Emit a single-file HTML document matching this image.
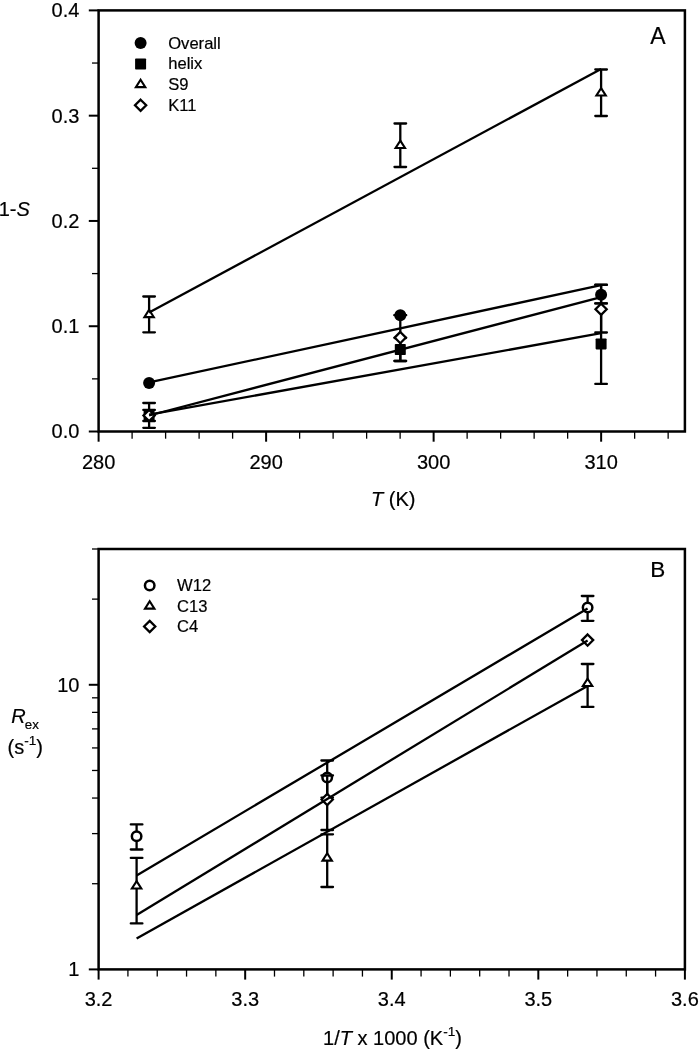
<!DOCTYPE html>
<html lang="en">
<head>
<meta charset="utf-8">
<title>Figure</title>
<style>
html,body{margin:0;padding:0;background:#fff;}
body{width:699px;height:1050px;overflow:hidden;}
svg{display:block;}
svg text{font-family:"Liberation Sans", Arial, Helvetica, sans-serif;fill:#000;stroke:#000;stroke-width:0.2px;}
</style>
</head>
<body>
<svg width="699" height="1050" viewBox="0 0 699 1050">
<rect x="0" y="0" width="699" height="1050" fill="#fff"/>
<rect x="98.6" y="10.4" width="586.30" height="421.10" fill="none" stroke="#000" stroke-width="2.5"/>
<line x1="88.80" y1="431.50" x2="98.60" y2="431.50" stroke="#000" stroke-width="2.0" stroke-linecap="butt"/>
<text x="79.40" y="438.40" font-size="20.0" text-anchor="end" >0.0</text>
<line x1="92.00" y1="378.86" x2="98.60" y2="378.86" stroke="#000" stroke-width="1.3" stroke-linecap="butt"/>
<line x1="88.80" y1="326.23" x2="98.60" y2="326.23" stroke="#000" stroke-width="2.0" stroke-linecap="butt"/>
<text x="79.40" y="333.12" font-size="20.0" text-anchor="end" >0.1</text>
<line x1="92.00" y1="273.59" x2="98.60" y2="273.59" stroke="#000" stroke-width="1.3" stroke-linecap="butt"/>
<line x1="88.80" y1="220.95" x2="98.60" y2="220.95" stroke="#000" stroke-width="2.0" stroke-linecap="butt"/>
<text x="79.40" y="227.85" font-size="20.0" text-anchor="end" >0.2</text>
<line x1="92.00" y1="168.31" x2="98.60" y2="168.31" stroke="#000" stroke-width="1.3" stroke-linecap="butt"/>
<line x1="88.80" y1="115.67" x2="98.60" y2="115.67" stroke="#000" stroke-width="2.0" stroke-linecap="butt"/>
<text x="79.40" y="122.57" font-size="20.0" text-anchor="end" >0.3</text>
<line x1="92.00" y1="63.04" x2="98.60" y2="63.04" stroke="#000" stroke-width="1.3" stroke-linecap="butt"/>
<line x1="88.80" y1="10.40" x2="98.60" y2="10.40" stroke="#000" stroke-width="2.0" stroke-linecap="butt"/>
<text x="79.40" y="17.30" font-size="20.0" text-anchor="end" >0.4</text>
<line x1="98.60" y1="431.50" x2="98.60" y2="441.70" stroke="#000" stroke-width="2.0" stroke-linecap="butt"/>
<text x="98.60" y="468.50" font-size="20.0" text-anchor="middle" >280</text>
<line x1="132.10" y1="431.50" x2="132.10" y2="438.70" stroke="#000" stroke-width="1.3" stroke-linecap="butt"/>
<line x1="165.61" y1="431.50" x2="165.61" y2="438.70" stroke="#000" stroke-width="1.3" stroke-linecap="butt"/>
<line x1="199.11" y1="431.50" x2="199.11" y2="438.70" stroke="#000" stroke-width="1.3" stroke-linecap="butt"/>
<line x1="232.61" y1="431.50" x2="232.61" y2="438.70" stroke="#000" stroke-width="1.3" stroke-linecap="butt"/>
<line x1="266.11" y1="431.50" x2="266.11" y2="441.70" stroke="#000" stroke-width="2.0" stroke-linecap="butt"/>
<text x="266.11" y="468.50" font-size="20.0" text-anchor="middle" >290</text>
<line x1="299.62" y1="431.50" x2="299.62" y2="438.70" stroke="#000" stroke-width="1.3" stroke-linecap="butt"/>
<line x1="333.12" y1="431.50" x2="333.12" y2="438.70" stroke="#000" stroke-width="1.3" stroke-linecap="butt"/>
<line x1="366.62" y1="431.50" x2="366.62" y2="438.70" stroke="#000" stroke-width="1.3" stroke-linecap="butt"/>
<line x1="400.13" y1="431.50" x2="400.13" y2="438.70" stroke="#000" stroke-width="1.3" stroke-linecap="butt"/>
<line x1="433.63" y1="431.50" x2="433.63" y2="441.70" stroke="#000" stroke-width="2.0" stroke-linecap="butt"/>
<text x="433.63" y="468.50" font-size="20.0" text-anchor="middle" >300</text>
<line x1="467.13" y1="431.50" x2="467.13" y2="438.70" stroke="#000" stroke-width="1.3" stroke-linecap="butt"/>
<line x1="500.63" y1="431.50" x2="500.63" y2="438.70" stroke="#000" stroke-width="1.3" stroke-linecap="butt"/>
<line x1="534.14" y1="431.50" x2="534.14" y2="438.70" stroke="#000" stroke-width="1.3" stroke-linecap="butt"/>
<line x1="567.64" y1="431.50" x2="567.64" y2="438.70" stroke="#000" stroke-width="1.3" stroke-linecap="butt"/>
<line x1="601.14" y1="431.50" x2="601.14" y2="441.70" stroke="#000" stroke-width="2.0" stroke-linecap="butt"/>
<text x="601.14" y="468.50" font-size="20.0" text-anchor="middle" >310</text>
<line x1="634.65" y1="431.50" x2="634.65" y2="438.70" stroke="#000" stroke-width="1.3" stroke-linecap="butt"/>
<line x1="668.15" y1="431.50" x2="668.15" y2="438.70" stroke="#000" stroke-width="1.3" stroke-linecap="butt"/>
<line x1="601.10" y1="284.90" x2="601.10" y2="303.40" stroke="#000" stroke-width="2.3" stroke-linecap="butt"/>
<line x1="595.30" y1="284.90" x2="606.90" y2="284.90" stroke="#000" stroke-width="2.3" stroke-linecap="round"/>
<line x1="595.30" y1="303.40" x2="606.90" y2="303.40" stroke="#000" stroke-width="2.3" stroke-linecap="round"/>
<line x1="394.50" y1="315.20" x2="406.10" y2="315.20" stroke="#000" stroke-width="2.3" stroke-linecap="round"/>
<line x1="149.10" y1="403.00" x2="149.10" y2="427.80" stroke="#000" stroke-width="2.3" stroke-linecap="butt"/>
<line x1="143.30" y1="403.00" x2="154.90" y2="403.00" stroke="#000" stroke-width="2.3" stroke-linecap="round"/>
<line x1="143.30" y1="427.80" x2="154.90" y2="427.80" stroke="#000" stroke-width="2.3" stroke-linecap="round"/>
<line x1="400.30" y1="338.00" x2="400.30" y2="361.00" stroke="#000" stroke-width="2.3" stroke-linecap="butt"/>
<line x1="394.50" y1="338.00" x2="406.10" y2="338.00" stroke="#000" stroke-width="2.3" stroke-linecap="round"/>
<line x1="394.50" y1="361.00" x2="406.10" y2="361.00" stroke="#000" stroke-width="2.3" stroke-linecap="round"/>
<line x1="601.10" y1="303.40" x2="601.10" y2="383.90" stroke="#000" stroke-width="2.3" stroke-linecap="butt"/>
<line x1="595.30" y1="303.40" x2="606.90" y2="303.40" stroke="#000" stroke-width="2.3" stroke-linecap="round"/>
<line x1="595.30" y1="383.90" x2="606.90" y2="383.90" stroke="#000" stroke-width="2.3" stroke-linecap="round"/>
<line x1="149.10" y1="296.50" x2="149.10" y2="332.30" stroke="#000" stroke-width="2.3" stroke-linecap="butt"/>
<line x1="143.30" y1="296.50" x2="154.90" y2="296.50" stroke="#000" stroke-width="2.3" stroke-linecap="round"/>
<line x1="143.30" y1="332.30" x2="154.90" y2="332.30" stroke="#000" stroke-width="2.3" stroke-linecap="round"/>
<line x1="400.30" y1="123.50" x2="400.30" y2="167.00" stroke="#000" stroke-width="2.3" stroke-linecap="butt"/>
<line x1="394.50" y1="123.50" x2="406.10" y2="123.50" stroke="#000" stroke-width="2.3" stroke-linecap="round"/>
<line x1="394.50" y1="167.00" x2="406.10" y2="167.00" stroke="#000" stroke-width="2.3" stroke-linecap="round"/>
<line x1="601.10" y1="69.50" x2="601.10" y2="116.00" stroke="#000" stroke-width="2.3" stroke-linecap="butt"/>
<line x1="595.30" y1="69.50" x2="606.90" y2="69.50" stroke="#000" stroke-width="2.3" stroke-linecap="round"/>
<line x1="595.30" y1="116.00" x2="606.90" y2="116.00" stroke="#000" stroke-width="2.3" stroke-linecap="round"/>
<line x1="149.10" y1="409.90" x2="149.10" y2="421.00" stroke="#000" stroke-width="2.3" stroke-linecap="butt"/>
<line x1="143.30" y1="409.90" x2="154.90" y2="409.90" stroke="#000" stroke-width="2.3" stroke-linecap="round"/>
<line x1="143.30" y1="421.00" x2="154.90" y2="421.00" stroke="#000" stroke-width="2.3" stroke-linecap="round"/>
<line x1="400.30" y1="315.20" x2="400.30" y2="361.00" stroke="#000" stroke-width="2.3" stroke-linecap="butt"/>
<line x1="394.50" y1="315.20" x2="406.10" y2="315.20" stroke="#000" stroke-width="2.3" stroke-linecap="round"/>
<line x1="394.50" y1="361.00" x2="406.10" y2="361.00" stroke="#000" stroke-width="2.3" stroke-linecap="round"/>
<line x1="601.10" y1="284.70" x2="601.10" y2="332.50" stroke="#000" stroke-width="2.3" stroke-linecap="butt"/>
<line x1="595.30" y1="284.70" x2="606.90" y2="284.70" stroke="#000" stroke-width="2.3" stroke-linecap="round"/>
<line x1="595.30" y1="332.50" x2="606.90" y2="332.50" stroke="#000" stroke-width="2.3" stroke-linecap="round"/>
<circle cx="149.10" cy="382.90" r="6.0" fill="#000"/>
<circle cx="400.30" cy="315.20" r="6.0" fill="#000"/>
<circle cx="601.10" cy="294.80" r="6.0" fill="#000"/>
<rect x="143.60" y="410.00" width="11.0" height="11.0" rx="0.8" fill="#000"/>
<rect x="394.80" y="344.00" width="11.0" height="11.0" rx="0.8" fill="#000"/>
<rect x="595.60" y="338.40" width="11.0" height="11.0" rx="0.8" fill="#000"/>
<polygon points="149.10,309.80 153.80,317.15 144.40,317.15" fill="#fff" stroke="#000" stroke-width="2.1" stroke-linejoin="miter"/>
<polygon points="400.30,140.65 405.00,148.00 395.60,148.00" fill="#fff" stroke="#000" stroke-width="2.1" stroke-linejoin="miter"/>
<polygon points="601.10,88.15 605.80,95.50 596.40,95.50" fill="#fff" stroke="#000" stroke-width="2.1" stroke-linejoin="miter"/>
<polygon points="149.10,409.90 154.70,415.50 149.10,421.10 143.50,415.50" fill="#fff" stroke="#000" stroke-width="2.3" stroke-linejoin="miter"/>
<polygon points="400.30,332.00 405.90,337.60 400.30,343.20 394.70,337.60" fill="#fff" stroke="#000" stroke-width="2.3" stroke-linejoin="miter"/>
<polygon points="601.10,303.70 606.70,309.30 601.10,314.90 595.50,309.30" fill="#fff" stroke="#000" stroke-width="2.3" stroke-linejoin="miter"/>
<line x1="149.10" y1="382.40" x2="601.10" y2="285.20" stroke="#000" stroke-width="2.3" stroke-linecap="butt"/>
<line x1="149.10" y1="414.60" x2="601.10" y2="333.20" stroke="#000" stroke-width="2.3" stroke-linecap="butt"/>
<line x1="149.10" y1="312.50" x2="601.10" y2="68.90" stroke="#000" stroke-width="2.3" stroke-linecap="butt"/>
<line x1="149.10" y1="415.50" x2="601.10" y2="297.10" stroke="#000" stroke-width="2.3" stroke-linecap="butt"/>
<circle cx="140.60" cy="43.00" r="6.0" fill="#000"/>
<rect x="135.10" y="58.50" width="11.0" height="11.0" rx="0.8" fill="#000"/>
<polygon points="140.60,79.80 145.30,87.15 135.90,87.15" fill="#fff" stroke="#000" stroke-width="2.1" stroke-linejoin="miter"/>
<polygon points="140.60,99.70 146.20,105.30 140.60,110.90 135.00,105.30" fill="#fff" stroke="#000" stroke-width="2.3" stroke-linejoin="miter"/>
<text x="168.20" y="48.50" font-size="16.6" text-anchor="start" >Overall</text>
<text x="168.20" y="69.30" font-size="16.6" text-anchor="start" >helix</text>
<text x="168.20" y="89.90" font-size="16.6" text-anchor="start" >S9</text>
<text x="168.20" y="110.50" font-size="16.6" text-anchor="start" >K11</text>
<text x="650.20" y="44.30" font-size="23" text-anchor="start" >A</text>
<text x="-1.30" y="215.60" font-size="20.0" text-anchor="start" >1-<tspan font-style="italic">S</tspan></text>
<text x="371.00" y="505.50" font-size="20.0" text-anchor="start" ><tspan font-style="italic">T</tspan> (K)</text>
<rect x="98.6" y="549.0" width="586.30" height="420.40" fill="none" stroke="#000" stroke-width="2.5"/>
<line x1="88.80" y1="969.40" x2="98.60" y2="969.40" stroke="#000" stroke-width="2.0" stroke-linecap="butt"/>
<text x="79.40" y="976.30" font-size="20.0" text-anchor="end" >1</text>
<line x1="92.00" y1="883.72" x2="98.60" y2="883.72" stroke="#000" stroke-width="1.3" stroke-linecap="butt"/>
<line x1="92.00" y1="833.61" x2="98.60" y2="833.61" stroke="#000" stroke-width="1.3" stroke-linecap="butt"/>
<line x1="92.00" y1="798.05" x2="98.60" y2="798.05" stroke="#000" stroke-width="1.3" stroke-linecap="butt"/>
<line x1="92.00" y1="770.47" x2="98.60" y2="770.47" stroke="#000" stroke-width="1.3" stroke-linecap="butt"/>
<line x1="92.00" y1="747.93" x2="98.60" y2="747.93" stroke="#000" stroke-width="1.3" stroke-linecap="butt"/>
<line x1="92.00" y1="728.88" x2="98.60" y2="728.88" stroke="#000" stroke-width="1.3" stroke-linecap="butt"/>
<line x1="92.00" y1="712.37" x2="98.60" y2="712.37" stroke="#000" stroke-width="1.3" stroke-linecap="butt"/>
<line x1="92.00" y1="697.82" x2="98.60" y2="697.82" stroke="#000" stroke-width="1.3" stroke-linecap="butt"/>
<line x1="88.80" y1="684.79" x2="98.60" y2="684.79" stroke="#000" stroke-width="2.0" stroke-linecap="butt"/>
<text x="79.40" y="691.69" font-size="20.0" text-anchor="end" >10</text>
<line x1="92.00" y1="599.12" x2="98.60" y2="599.12" stroke="#000" stroke-width="1.3" stroke-linecap="butt"/>
<line x1="92.00" y1="549.00" x2="98.60" y2="549.00" stroke="#000" stroke-width="1.3" stroke-linecap="butt"/>
<line x1="98.60" y1="969.40" x2="98.60" y2="979.60" stroke="#000" stroke-width="2.0" stroke-linecap="butt"/>
<text x="98.60" y="1006.40" font-size="20.0" text-anchor="middle" >3.2</text>
<line x1="127.92" y1="969.40" x2="127.92" y2="976.60" stroke="#000" stroke-width="1.3" stroke-linecap="butt"/>
<line x1="157.23" y1="969.40" x2="157.23" y2="976.60" stroke="#000" stroke-width="1.3" stroke-linecap="butt"/>
<line x1="186.55" y1="969.40" x2="186.55" y2="976.60" stroke="#000" stroke-width="1.3" stroke-linecap="butt"/>
<line x1="215.86" y1="969.40" x2="215.86" y2="976.60" stroke="#000" stroke-width="1.3" stroke-linecap="butt"/>
<line x1="245.18" y1="969.40" x2="245.18" y2="979.60" stroke="#000" stroke-width="2.0" stroke-linecap="butt"/>
<text x="245.18" y="1006.40" font-size="20.0" text-anchor="middle" >3.3</text>
<line x1="274.49" y1="969.40" x2="274.49" y2="976.60" stroke="#000" stroke-width="1.3" stroke-linecap="butt"/>
<line x1="303.81" y1="969.40" x2="303.81" y2="976.60" stroke="#000" stroke-width="1.3" stroke-linecap="butt"/>
<line x1="333.12" y1="969.40" x2="333.12" y2="976.60" stroke="#000" stroke-width="1.3" stroke-linecap="butt"/>
<line x1="362.44" y1="969.40" x2="362.44" y2="976.60" stroke="#000" stroke-width="1.3" stroke-linecap="butt"/>
<line x1="391.75" y1="969.40" x2="391.75" y2="979.60" stroke="#000" stroke-width="2.0" stroke-linecap="butt"/>
<text x="391.75" y="1006.40" font-size="20.0" text-anchor="middle" >3.4</text>
<line x1="421.07" y1="969.40" x2="421.07" y2="976.60" stroke="#000" stroke-width="1.3" stroke-linecap="butt"/>
<line x1="450.38" y1="969.40" x2="450.38" y2="976.60" stroke="#000" stroke-width="1.3" stroke-linecap="butt"/>
<line x1="479.69" y1="969.40" x2="479.69" y2="976.60" stroke="#000" stroke-width="1.3" stroke-linecap="butt"/>
<line x1="509.01" y1="969.40" x2="509.01" y2="976.60" stroke="#000" stroke-width="1.3" stroke-linecap="butt"/>
<line x1="538.32" y1="969.40" x2="538.32" y2="979.60" stroke="#000" stroke-width="2.0" stroke-linecap="butt"/>
<text x="538.32" y="1006.40" font-size="20.0" text-anchor="middle" >3.5</text>
<line x1="567.64" y1="969.40" x2="567.64" y2="976.60" stroke="#000" stroke-width="1.3" stroke-linecap="butt"/>
<line x1="596.95" y1="969.40" x2="596.95" y2="976.60" stroke="#000" stroke-width="1.3" stroke-linecap="butt"/>
<line x1="626.27" y1="969.40" x2="626.27" y2="976.60" stroke="#000" stroke-width="1.3" stroke-linecap="butt"/>
<line x1="655.58" y1="969.40" x2="655.58" y2="976.60" stroke="#000" stroke-width="1.3" stroke-linecap="butt"/>
<line x1="684.90" y1="969.40" x2="684.90" y2="979.60" stroke="#000" stroke-width="2.0" stroke-linecap="butt"/>
<text x="684.90" y="1006.40" font-size="20.0" text-anchor="middle" >3.6</text>
<line x1="136.60" y1="824.40" x2="136.60" y2="849.50" stroke="#000" stroke-width="2.3" stroke-linecap="butt"/>
<line x1="130.80" y1="824.40" x2="142.40" y2="824.40" stroke="#000" stroke-width="2.3" stroke-linecap="round"/>
<line x1="130.80" y1="849.50" x2="142.40" y2="849.50" stroke="#000" stroke-width="2.3" stroke-linecap="round"/>
<line x1="327.20" y1="760.50" x2="327.20" y2="797.60" stroke="#000" stroke-width="2.3" stroke-linecap="butt"/>
<line x1="321.40" y1="760.50" x2="333.00" y2="760.50" stroke="#000" stroke-width="2.3" stroke-linecap="round"/>
<line x1="321.40" y1="797.60" x2="333.00" y2="797.60" stroke="#000" stroke-width="2.3" stroke-linecap="round"/>
<line x1="587.60" y1="596.00" x2="587.60" y2="620.80" stroke="#000" stroke-width="2.3" stroke-linecap="butt"/>
<line x1="581.80" y1="596.00" x2="593.40" y2="596.00" stroke="#000" stroke-width="2.3" stroke-linecap="round"/>
<line x1="581.80" y1="620.80" x2="593.40" y2="620.80" stroke="#000" stroke-width="2.3" stroke-linecap="round"/>
<circle cx="136.60" cy="836.30" r="4.75" fill="#fff" stroke="#000" stroke-width="2.5"/>
<circle cx="327.20" cy="777.60" r="4.75" fill="#fff" stroke="#000" stroke-width="2.5"/>
<circle cx="587.60" cy="607.60" r="4.75" fill="#fff" stroke="#000" stroke-width="2.5"/>
<line x1="136.60" y1="857.90" x2="136.60" y2="923.40" stroke="#000" stroke-width="2.3" stroke-linecap="butt"/>
<line x1="130.80" y1="857.90" x2="142.40" y2="857.90" stroke="#000" stroke-width="2.3" stroke-linecap="round"/>
<line x1="130.80" y1="923.40" x2="142.40" y2="923.40" stroke="#000" stroke-width="2.3" stroke-linecap="round"/>
<line x1="327.20" y1="834.30" x2="327.20" y2="887.00" stroke="#000" stroke-width="2.3" stroke-linecap="butt"/>
<line x1="321.40" y1="834.30" x2="333.00" y2="834.30" stroke="#000" stroke-width="2.3" stroke-linecap="round"/>
<line x1="321.40" y1="887.00" x2="333.00" y2="887.00" stroke="#000" stroke-width="2.3" stroke-linecap="round"/>
<line x1="587.60" y1="664.00" x2="587.60" y2="706.90" stroke="#000" stroke-width="2.3" stroke-linecap="butt"/>
<line x1="581.80" y1="664.00" x2="593.40" y2="664.00" stroke="#000" stroke-width="2.3" stroke-linecap="round"/>
<line x1="581.80" y1="706.90" x2="593.40" y2="706.90" stroke="#000" stroke-width="2.3" stroke-linecap="round"/>
<polygon points="136.60,881.10 141.30,888.45 131.90,888.45" fill="#fff" stroke="#000" stroke-width="2.1" stroke-linejoin="miter"/>
<polygon points="327.20,853.30 331.90,860.65 322.50,860.65" fill="#fff" stroke="#000" stroke-width="2.1" stroke-linejoin="miter"/>
<polygon points="587.60,678.70 592.30,686.05 582.90,686.05" fill="#fff" stroke="#000" stroke-width="2.1" stroke-linejoin="miter"/>
<line x1="327.20" y1="775.50" x2="327.20" y2="830.00" stroke="#000" stroke-width="2.3" stroke-linecap="butt"/>
<line x1="321.40" y1="775.50" x2="333.00" y2="775.50" stroke="#000" stroke-width="2.3" stroke-linecap="round"/>
<line x1="321.40" y1="830.00" x2="333.00" y2="830.00" stroke="#000" stroke-width="2.3" stroke-linecap="round"/>
<polygon points="327.20,793.90 332.80,799.50 327.20,805.10 321.60,799.50" fill="#fff" stroke="#000" stroke-width="2.3" stroke-linejoin="miter"/>
<polygon points="587.60,634.50 593.20,640.10 587.60,645.70 582.00,640.10" fill="#fff" stroke="#000" stroke-width="2.3" stroke-linejoin="miter"/>
<line x1="136.60" y1="875.40" x2="587.60" y2="608.50" stroke="#000" stroke-width="2.3" stroke-linecap="butt"/>
<line x1="136.60" y1="915.00" x2="587.60" y2="640.50" stroke="#000" stroke-width="2.3" stroke-linecap="butt"/>
<line x1="136.60" y1="938.40" x2="587.60" y2="686.00" stroke="#000" stroke-width="2.3" stroke-linecap="butt"/>
<circle cx="149.70" cy="585.50" r="4.75" fill="#fff" stroke="#000" stroke-width="2.5"/>
<polygon points="149.70,601.30 154.40,608.65 145.00,608.65" fill="#fff" stroke="#000" stroke-width="2.1" stroke-linejoin="miter"/>
<polygon points="149.70,620.90 155.30,626.50 149.70,632.10 144.10,626.50" fill="#fff" stroke="#000" stroke-width="2.3" stroke-linejoin="miter"/>
<text x="177.00" y="591.00" font-size="16.6" text-anchor="start" >W12</text>
<text x="177.00" y="611.50" font-size="16.6" text-anchor="start" >C13</text>
<text x="177.00" y="631.80" font-size="16.6" text-anchor="start" >C4</text>
<text x="650.20" y="577.40" font-size="22.5" text-anchor="start" >B</text>
<text x="11.20" y="723.00" font-size="20.0" text-anchor="start" ><tspan font-style="italic">R</tspan><tspan font-size="13.3" dx="-0.8" dy="6.4">ex</tspan></text>
<text x="7.50" y="753.60" font-size="20.0" text-anchor="start" >(s<tspan font-size="13.6" dy="-8.8">-1</tspan><tspan dy="8.8">)</tspan></text>
<text x="323.10" y="1045.20" font-size="20.0" text-anchor="start" >1/<tspan font-style="italic">T</tspan> x 1000 (K<tspan font-size="13.6" dy="-8.8">-1</tspan><tspan dy="8.8">)</tspan></text>
</svg>
</body>
</html>
